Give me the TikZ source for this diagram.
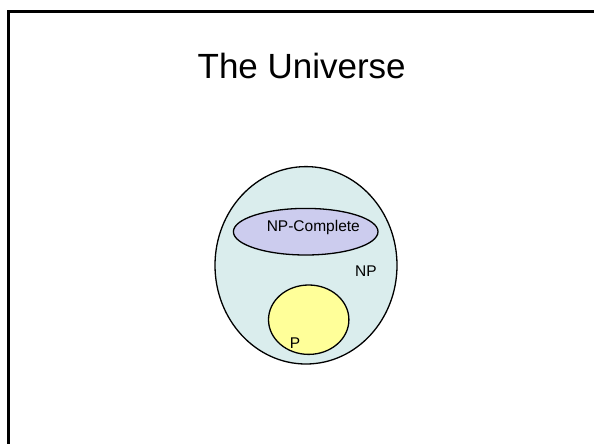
\documentclass[tikz,border=0pt]{standalone}
\usepackage{fontspec}
\setmainfont{Liberation Sans}
\usetikzlibrary{shapes.geometric}
\definecolor{npfill}{RGB}{218,237,237}
\definecolor{npcfill}{RGB}{204,204,238}
\definecolor{pfill}{RGB}{255,255,153}
\tikzset{
  setshape/.style={ellipse, draw=black, line width=1.3pt, inner sep=0pt},
  lbl/.style={anchor=base, inner sep=0pt, font=\fontsize{15.5}{18}\selectfont},
}
\begin{document}
\begin{tikzpicture}[x=1pt, y=-1pt]
\useasboundingbox (0,0) rectangle (594,444);
\fill[white] (0,0) rectangle (594,444);
% frame
\draw[line width=3.3pt, line cap=butt] (8.3,444) -- (8.3,11.7) -- (594,11.7);
% title
\node[anchor=base, inner sep=0pt, font=\fontsize{35}{42}\selectfont] (title) at (301.7,78.3) {The Universe};
% sets
\node[setshape, fill=npfill, minimum width=182pt, minimum height=197.4pt] (np) at (306,265.3) {};
\node[setshape, fill=npcfill, minimum width=144.6pt, minimum height=46.6pt] (npc) at (305.7,231.7) {};
\node[setshape, fill=pfill, minimum width=80.4pt, minimum height=69.4pt] (p) at (308.7,319.7) {};
% labels
\node[lbl] (npctext) at (313.3,231.7) {NP-Complete};
\node[lbl] (nptext) at (366,276.5) {NP};
\node[lbl] (ptext) at (295,348) {P};
\end{tikzpicture}
\end{document}
